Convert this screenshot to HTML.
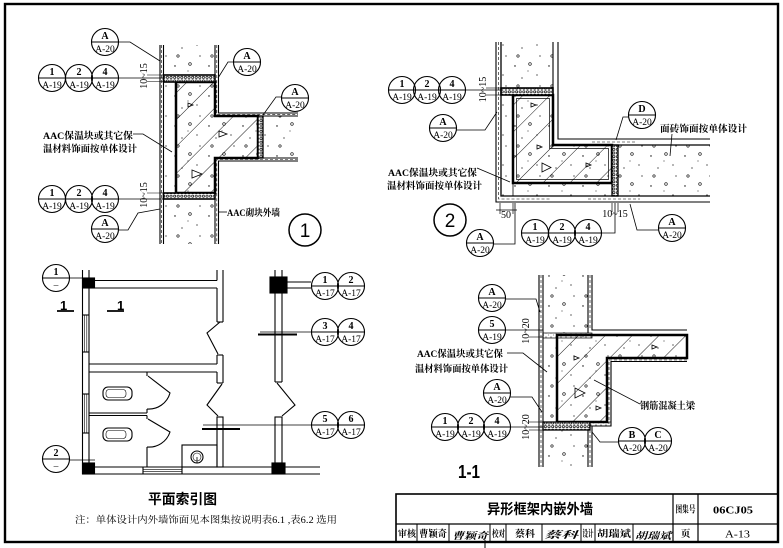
<!DOCTYPE html>
<html><head><meta charset="utf-8">
<style>
html,body{margin:0;padding:0;background:#fff;}
svg{display:block}
.c{fill:none;stroke:#000;stroke-width:1.1}
.d{stroke:#000;stroke-width:.9}
.mt{font-family:"Liberation Serif",serif;font-size:10px;font-weight:bold;text-anchor:middle}
.mb{font-family:"Liberation Serif",serif;font-size:9.5px;text-anchor:middle}
.cn{font-family:"Liberation Serif","Noto Serif CJK SC",serif;font-size:9.6px;font-weight:bold}
.dim{font-family:"Liberation Serif",serif;font-size:10px}
.hs{font-family:"Liberation Sans","Noto Sans CJK SC",sans-serif}
</style></head><body>
<svg width="783" height="548" viewBox="0 0 783 548" xmlns="http://www.w3.org/2000/svg">
<defs>
<pattern id="conc" width="34" height="30" patternUnits="userSpaceOnUse">
 <circle cx="5" cy="6" r="0.7" fill="#000"/>
 <circle cx="20" cy="4" r="1.3" fill="none" stroke="#000" stroke-width="0.6"/>
 <circle cx="27" cy="15" r="0.6" fill="#000"/>
 <circle cx="12" cy="18" r="0.6" fill="#000"/>
 <circle cx="8" cy="26" r="1.2" fill="none" stroke="#000" stroke-width="0.6"/>
 <circle cx="30" cy="26" r="0.6" fill="#000"/>
 <circle cx="18" cy="11" r="0.5" fill="#000"/>
</pattern>
<pattern id="hatch" width="19" height="19" patternUnits="userSpaceOnUse" patternTransform="rotate(45)">
 <line x1="0" y1="0" x2="0" y2="19" stroke="#000" stroke-width="0.9"/>
</pattern>
<pattern id="ins" width="3.6" height="3.6" patternUnits="userSpaceOnUse">
 <rect width="3.6" height="3.6" fill="#fff"/>
 <circle cx="1.8" cy="1.8" r="1.15" fill="none" stroke="#000" stroke-width="0.7"/>
</pattern>
<pattern id="fine" width="5" height="4" patternUnits="userSpaceOnUse">
 <circle cx="1" cy="1" r="0.5" fill="#000"/><circle cx="3.5" cy="3" r="0.4" fill="#000"/>
</pattern>
</defs>

<!-- frame -->
<rect x="5" y="4" width="773" height="538" fill="none" stroke="#000" stroke-width="2.4"/>

<!-- ================= DETAIL 1 ================= -->
<g stroke="#000" fill="none" stroke-width="1.1">
 <rect x="163.5" y="45" width="51.5" height="30" fill="url(#conc)" stroke="none"/>
 <rect x="163.5" y="199" width="51.5" height="45" fill="url(#conc)" stroke="none"/>
 <rect x="262" y="116" width="36" height="42" fill="url(#conc)" stroke="none"/>
 <rect x="163.5" y="82" width="12.5" height="111" fill="url(#conc)" stroke="none"/>
 <path d="M176,82 H215 V116 H258 V158 H215 V193 H176 Z" fill="url(#conc)" stroke="none"/>
 <path d="M176,82 H215 V116 H258 V158 H215 V193 H176 Z" fill="url(#hatch)" stroke-width="2.5"/>
 <path d="M192,170 L202,174 L192,178 Z M188,103 L193,105 L188,107 Z M219,131 L227,134 L219,137 Z" stroke-width=".8"/>
 <rect x="163.5" y="75" width="51.5" height="7" fill="url(#ins)" stroke-width="1.6"/>
 <rect x="163.5" y="193" width="51.5" height="6" fill="url(#ins)" stroke-width="1.6"/>
 <rect x="258" y="116" width="5" height="42" fill="url(#ins)" stroke-width="1.3"/>
 <line x1="160" y1="45" x2="160" y2="244"/>
 <line x1="163.5" y1="45" x2="163.5" y2="244"/>
 <line x1="161.7" y1="45" x2="161.7" y2="244" stroke-width="0.6" stroke-dasharray="3,2"/>
 <line x1="215" y1="45" x2="215" y2="75"/>
 <line x1="215" y1="199" x2="215" y2="244"/>
 <path d="M218.5,45 V113 H298"/>
 <path d="M298,161 H218.5 V244"/>
 <path d="M216.8,45 V114.6 H298" stroke-width=".6" stroke-dasharray="3,2"/>
 <path d="M298,159.5 H216.8 V244" stroke-width=".6" stroke-dasharray="3,2"/>
 <line x1="263" y1="116" x2="298" y2="116"/>
 <line x1="263" y1="158" x2="298" y2="158"/>
 <!-- leaders -->
 <path d="M118.5,42 H130 L160,61" stroke-width=".8"/>
 <line x1="118.5" y1="78" x2="164" y2="78" stroke-width=".8"/>
 <line x1="147" y1="75" x2="164" y2="75" stroke-width=".6"/>
 <line x1="147" y1="81.5" x2="164" y2="81.5" stroke-width=".6"/>
 <line x1="118.5" y1="199" x2="164" y2="199" stroke-width=".8"/>
 <line x1="147" y1="193" x2="164" y2="193" stroke-width=".6"/>
 <path d="M118.5,230 H128 L138,213 L160,209" stroke-width=".8"/>
 <path d="M233.5,62 H228 L218,78" stroke-width=".8"/>
 <path d="M281.5,97 H276 L263,115" stroke-width=".8"/>
 <path d="M133,134 H143 L172,152" stroke-width=".8"/>
 <line x1="218" y1="212" x2="227" y2="212" stroke-width=".8"/>
 <circle cx="305" cy="230" r="16" stroke-width="1.5"/>
</g>
<text class="dim" text-anchor="middle" transform="translate(147 76) rotate(-90)">10~15</text>
<text class="dim" text-anchor="middle" transform="translate(147 195) rotate(-90)">10~15</text>
<text x="43" y="139" class="cn" textLength="90" lengthAdjust="spacingAndGlyphs">AAC保温块或其它保</text>
<text x="43" y="152" class="cn" textLength="94" lengthAdjust="spacingAndGlyphs">温材料饰面按单体设计</text>
<text x="227" y="216" class="cn" textLength="53" lengthAdjust="spacingAndGlyphs">AAC砌块外墙</text>
<text x="305" y="237" class="hs" font-size="19" text-anchor="middle">1</text>

<g transform="translate(105,42)"><circle r="13.5" class="c"/><line x1="-13.5" x2="13.5" class="d"/><text y="-3.2" class="mt">A</text><text y="10" class="mb">A-20</text></g>
<g transform="translate(52,78)"><circle r="13.5" class="c"/><line x1="-13.5" x2="13.5" class="d"/><text y="-3.2" class="mt">1</text><text y="10" class="mb">A-19</text></g>
<g transform="translate(79,78)"><circle r="13.5" class="c"/><line x1="-13.5" x2="13.5" class="d"/><text y="-3.2" class="mt">2</text><text y="10" class="mb">A-19</text></g>
<g transform="translate(105,78)"><circle r="13.5" class="c"/><line x1="-13.5" x2="13.5" class="d"/><text y="-3.2" class="mt">4</text><text y="10" class="mb">A-19</text></g>
<g transform="translate(52,199)"><circle r="13.5" class="c"/><line x1="-13.5" x2="13.5" class="d"/><text y="-3.2" class="mt">1</text><text y="10" class="mb">A-19</text></g>
<g transform="translate(79,199)"><circle r="13.5" class="c"/><line x1="-13.5" x2="13.5" class="d"/><text y="-3.2" class="mt">2</text><text y="10" class="mb">A-19</text></g>
<g transform="translate(105,199)"><circle r="13.5" class="c"/><line x1="-13.5" x2="13.5" class="d"/><text y="-3.2" class="mt">4</text><text y="10" class="mb">A-19</text></g>
<g transform="translate(105,229)"><circle r="13.5" class="c"/><line x1="-13.5" x2="13.5" class="d"/><text y="-3.2" class="mt">A</text><text y="10" class="mb">A-20</text></g>
<g transform="translate(247,62)"><circle r="13.5" class="c"/><line x1="-13.5" x2="13.5" class="d"/><text y="-3.2" class="mt">A</text><text y="10" class="mb">A-20</text></g>
<g transform="translate(295,98)"><circle r="13.5" class="c"/><line x1="-13.5" x2="13.5" class="d"/><text y="-3.2" class="mt">A</text><text y="10" class="mb">A-20</text></g>

<!-- ================= DETAIL 2 ================= -->
<g stroke="#000" fill="none" stroke-width="1.1">
 <rect x="501" y="42" width="52" height="46" fill="url(#conc)" stroke="none"/>
 <rect x="501" y="95" width="12" height="101" fill="url(#conc)" stroke="none"/>
 <rect x="513" y="183" width="99" height="13" fill="url(#conc)" stroke="none"/>
 <rect x="618" y="145" width="92" height="51" fill="url(#conc)" stroke="none"/>
 <path d="M513,95 H553 V145 H612 V183 H513 Z" fill="url(#conc)" stroke="none"/>
 <path d="M513,95 H553 V145 H612 V183 H513 Z" fill="url(#hatch)" stroke-width="2.5"/>
 <path d="M516.5,98.5 H549.5 V148.5 H608.5 V179.5 H516.5 Z" stroke-width=".7"/>
 <path d="M542,163 L551,167.5 L542,172 Z M531,103 L536,105 L531,107 Z M537,145 L542,147 L537,149 Z M586,163 L591,165 L586,167 Z" stroke-width=".8"/>
 <line x1="513" y1="183" x2="513" y2="196" stroke-width=".8"/>
 <rect x="501" y="88" width="52" height="7" fill="url(#ins)" stroke-width="1.6"/>
 <rect x="612" y="145" width="6" height="51" fill="url(#ins)" stroke-width="1.3"/>
 <path d="M496,42 V202 H710"/>
 <path d="M501,42 V196 H710" stroke-width="1.3"/>
 <path d="M498.5,42 V199 H550" stroke-width=".6" stroke-dasharray="3,2"/>
 <line x1="588" y1="199" x2="640" y2="199" stroke-width=".6" stroke-dasharray="3,2"/>
 <line x1="553" y1="42" x2="553" y2="88"/>
 <path d="M558,42 V139 H710"/>
 <line x1="592" y1="142" x2="637" y2="142" stroke-width=".6" stroke-dasharray="3,2"/>
 <line x1="612" y1="145" x2="710" y2="145" stroke-width="1.3"/>
 <!-- leaders -->
 <line x1="465.5" y1="90" x2="501" y2="90" stroke-width=".8"/>
 <line x1="486" y1="88" x2="501" y2="88" stroke-width=".6"/>
 <line x1="486" y1="95" x2="501" y2="95" stroke-width=".6"/>
 <path d="M456.5,130 H485 L497,112" stroke-width=".8"/>
 <path d="M477,168 L510,182" stroke-width=".8"/>
 <circle cx="450" cy="220" r="16" stroke-width="1.5"/>
 <line x1="500" y1="203" x2="500" y2="214" stroke-width=".7"/>
 <line x1="513" y1="203" x2="513" y2="214" stroke-width=".7"/>
 <line x1="496" y1="210" x2="517" y2="210" stroke-width=".7"/>
 <path d="M493.5,244 H515 V203" stroke-width=".8"/>
 <path d="M601.5,233 H615 V203" stroke-width=".8"/>
 <line x1="612" y1="203" x2="612" y2="212" stroke-width=".7"/>
 <line x1="618" y1="203" x2="618" y2="212" stroke-width=".7"/>
 <path d="M628.5,117 H623 L616,140" stroke-width=".8"/>
 <path d="M672,134 L670,156" stroke-width=".8"/>
 <path d="M658.5,230 H637 L630,204" stroke-width=".8"/>
</g>
<text class="dim" text-anchor="middle" transform="translate(486 89.5) rotate(-90)">10~15</text>
<text x="388" y="176" class="cn" textLength="89" lengthAdjust="spacingAndGlyphs">AAC保温块或其它保</text>
<text x="387" y="189" class="cn" textLength="95" lengthAdjust="spacingAndGlyphs">温材料饰面按单体设计</text>
<text x="660" y="132" class="cn" textLength="87" lengthAdjust="spacingAndGlyphs">面砖饰面按单体设计</text>
<text x="506" y="218" class="dim" text-anchor="middle">50</text>
<text x="615" y="217" class="dim" text-anchor="middle">10~15</text>
<text x="450" y="227" class="hs" font-size="19" text-anchor="middle">2</text>
<g transform="translate(402,90)"><circle r="13.5" class="c"/><line x1="-13.5" x2="13.5" class="d"/><text y="-3.2" class="mt">1</text><text y="10" class="mb">A-19</text></g>
<g transform="translate(427,90)"><circle r="13.5" class="c"/><line x1="-13.5" x2="13.5" class="d"/><text y="-3.2" class="mt">2</text><text y="10" class="mb">A-19</text></g>
<g transform="translate(452,90)"><circle r="13.5" class="c"/><line x1="-13.5" x2="13.5" class="d"/><text y="-3.2" class="mt">4</text><text y="10" class="mb">A-19</text></g>
<g transform="translate(443,128)"><circle r="13.5" class="c"/><line x1="-13.5" x2="13.5" class="d"/><text y="-3.2" class="mt">A</text><text y="10" class="mb">A-20</text></g>
<g transform="translate(480,243)"><circle r="13.5" class="c"/><line x1="-13.5" x2="13.5" class="d"/><text y="-3.2" class="mt">A</text><text y="10" class="mb">A-20</text></g>
<g transform="translate(535,233)"><circle r="13.5" class="c"/><line x1="-13.5" x2="13.5" class="d"/><text y="-3.2" class="mt">1</text><text y="10" class="mb">A-19</text></g>
<g transform="translate(562,233)"><circle r="13.5" class="c"/><line x1="-13.5" x2="13.5" class="d"/><text y="-3.2" class="mt">2</text><text y="10" class="mb">A-19</text></g>
<g transform="translate(588,233)"><circle r="13.5" class="c"/><line x1="-13.5" x2="13.5" class="d"/><text y="-3.2" class="mt">4</text><text y="10" class="mb">A-19</text></g>
<g transform="translate(642,115)"><circle r="13.5" class="c"/><line x1="-13.5" x2="13.5" class="d"/><text y="-3.2" class="mt">D</text><text y="10" class="mb">A-20</text></g>
<g transform="translate(672,228)"><circle r="13.5" class="c"/><line x1="-13.5" x2="13.5" class="d"/><text y="-3.2" class="mt">A</text><text y="10" class="mb">A-20</text></g>

<!-- ================= DETAIL 1-1 ================= -->
<g stroke="#000" fill="none" stroke-width="1.1">
 <rect x="543" y="275" width="45" height="58" fill="url(#conc)" stroke="none"/>
 <rect x="543" y="430" width="45" height="37" fill="url(#conc)" stroke="none"/>
 <rect x="543" y="338" width="14" height="84" fill="url(#conc)" stroke="none"/>
 <path d="M557,335 H687 V358 H607 V422 H557 Z" fill="url(#conc)" stroke="none"/>
 <path d="M557,335 H687 V358 H607 V422 H557 Z" fill="url(#hatch)" stroke-width="2.5"/>
 <path d="M575,388 L585,393 L575,398 Z M574,356 L579,358 L574,360 Z M596,406 L601,408 L596,410 Z M652,345 L657,347 L652,349 Z" stroke-width=".8"/>
 <rect x="543" y="333" width="49" height="5" fill="url(#fine)" stroke-width=".7"/>
 <rect x="543" y="422" width="47" height="8" fill="url(#ins)" stroke-width="1.3"/>
 <rect x="590" y="422" width="21" height="4" fill="url(#fine)" stroke-width=".7"/>
 <line x1="539" y1="275" x2="539" y2="467"/>
 <line x1="543" y1="275" x2="543" y2="467"/>
 <line x1="541" y1="275" x2="541" y2="467" stroke-width=".6" stroke-dasharray="3,2"/>
 <line x1="588" y1="275" x2="588" y2="333"/>
 <path d="M592,275 V330 H687"/>
 <line x1="590" y1="275" x2="590" y2="330" stroke-width=".6" stroke-dasharray="3,2"/>
 <path d="M687,361.5 H611 V426 H592 V467"/>
 <path d="M687,360 H609 V424" stroke-width=".6" stroke-dasharray="3,2"/>
 <line x1="588" y1="430" x2="588" y2="467"/>
 <line x1="590" y1="430" x2="590" y2="467" stroke-width=".6" stroke-dasharray="3,2"/>
 <!-- leaders -->
 <path d="M505.5,299 H536 L540,312" stroke-width=".8"/>
 <line x1="505.5" y1="330" x2="543" y2="330" stroke-width=".8"/>
 <line x1="529" y1="337" x2="543" y2="337" stroke-width=".6"/>
 <path d="M507,353 H523 L547,372" stroke-width=".8"/>
 <path d="M510.5,397 H532 L542,412" stroke-width=".8"/>
 <line x1="510.5" y1="427" x2="543" y2="427" stroke-width=".8"/>
 <line x1="529" y1="422" x2="543" y2="422" stroke-width=".6"/>
 <line x1="529" y1="430" x2="543" y2="430" stroke-width=".6"/>
 <path d="M618.5,442 H600 L592,432" stroke-width=".8"/>
 <path d="M640,404 L594,380" stroke-width=".8"/>
</g>
<text class="dim" text-anchor="middle" transform="translate(529 331) rotate(-90)">10~20</text>
<text class="dim" text-anchor="middle" transform="translate(529 427) rotate(-90)">10~20</text>
<text x="417" y="357" class="cn" textLength="86" lengthAdjust="spacingAndGlyphs">AAC保温块或其它保</text>
<text x="415" y="372" class="cn" textLength="93" lengthAdjust="spacingAndGlyphs">温材料饰面按单体设计</text>
<text x="640" y="409" class="cn" textLength="55" lengthAdjust="spacingAndGlyphs">钢筋混凝土梁</text>
<text x="458" y="478" class="hs" font-size="18" font-weight="bold" textLength="22" lengthAdjust="spacingAndGlyphs">1-1</text>
<g transform="translate(492,298)"><circle r="13.5" class="c"/><line x1="-13.5" x2="13.5" class="d"/><text y="-3.2" class="mt">A</text><text y="10" class="mb">A-20</text></g>
<g transform="translate(492,330)"><circle r="13.5" class="c"/><line x1="-13.5" x2="13.5" class="d"/><text y="-3.2" class="mt">5</text><text y="10" class="mb">A-19</text></g>
<g transform="translate(497,393)"><circle r="13.5" class="c"/><line x1="-13.5" x2="13.5" class="d"/><text y="-3.2" class="mt">A</text><text y="10" class="mb">A-20</text></g>
<g transform="translate(445,427)"><circle r="13.5" class="c"/><line x1="-13.5" x2="13.5" class="d"/><text y="-3.2" class="mt">1</text><text y="10" class="mb">A-19</text></g>
<g transform="translate(471,427)"><circle r="13.5" class="c"/><line x1="-13.5" x2="13.5" class="d"/><text y="-3.2" class="mt">2</text><text y="10" class="mb">A-19</text></g>
<g transform="translate(497,427)"><circle r="13.5" class="c"/><line x1="-13.5" x2="13.5" class="d"/><text y="-3.2" class="mt">4</text><text y="10" class="mb">A-19</text></g>
<g transform="translate(632,441)"><circle r="13.5" class="c"/><line x1="-13.5" x2="13.5" class="d"/><text y="-3.2" class="mt">B</text><text y="10" class="mb">A-20</text></g>
<g transform="translate(658,441)"><circle r="13.5" class="c"/><line x1="-13.5" x2="13.5" class="d"/><text y="-3.2" class="mt">C</text><text y="10" class="mb">A-20</text></g>

<!-- ================= PLAN ================= -->
<g stroke="#000" fill="none" stroke-width="1.1">
 <line x1="82.5" y1="270" x2="82.5" y2="474"/>
 <line x1="89" y1="270" x2="89" y2="278"/>
 <line x1="89" y1="288" x2="89" y2="463"/>
 <line x1="82.5" y1="315" x2="89" y2="315"/>
 <line x1="82.5" y1="352" x2="89" y2="352"/>
 <line x1="82.5" y1="394" x2="89" y2="394"/>
 <line x1="82.5" y1="433" x2="89" y2="433"/>
 <line x1="84.7" y1="315" x2="84.7" y2="352" stroke-width=".6"/>
 <line x1="86.8" y1="315" x2="86.8" y2="352" stroke-width=".6"/>
 <line x1="84.7" y1="394" x2="84.7" y2="433" stroke-width=".6"/>
 <line x1="86.8" y1="394" x2="86.8" y2="433" stroke-width=".6"/>
 <rect x="82.5" y="278" width="12" height="10" fill="#000"/>
 <rect x="82.5" y="463" width="12" height="11" fill="#000"/>
 <line x1="94" y1="280.5" x2="217" y2="280.5"/>
 <line x1="94" y1="288" x2="217" y2="288"/>
 <line x1="217" y1="270" x2="217" y2="280.5"/>
 <line x1="217" y1="288" x2="217" y2="322"/>
 <line x1="223" y1="270" x2="223" y2="322"/>
 <line x1="217" y1="322" x2="223" y2="322"/>
 <polyline points="220,322 207,333 218,354"/>
 <line x1="217" y1="355" x2="223" y2="355"/>
 <line x1="217" y1="355" x2="217" y2="364"/>
 <line x1="217" y1="372" x2="217" y2="383"/>
 <line x1="223" y1="355" x2="223" y2="383"/>
 <line x1="217" y1="383" x2="223" y2="383"/>
 <polyline points="222,384 207,405 218,416"/>
 <rect x="217" y="417" width="6" height="50"/>
 <line x1="89" y1="364" x2="217" y2="364"/>
 <line x1="89" y1="372" x2="217" y2="372"/>
 <line x1="275" y1="270" x2="275" y2="382"/>
 <line x1="282" y1="270" x2="282" y2="382"/>
 <line x1="275" y1="382" x2="282" y2="382"/>
 <rect x="270" y="277" width="17" height="16" fill="#000"/>
 <polyline points="277,383 295,405 282,416"/>
 <rect x="275" y="417" width="7" height="46"/>
 <rect x="272" y="463" width="13" height="11" fill="#000"/>
 <line x1="287" y1="282" x2="311" y2="282"/>
 <line x1="287" y1="288" x2="311" y2="288"/>
 <line x1="94" y1="474" x2="320" y2="474"/>
 <line x1="94" y1="467" x2="272" y2="467"/>
 <line x1="285" y1="467" x2="320" y2="467"/>
 <line x1="143" y1="467" x2="143" y2="474"/>
 <line x1="182" y1="467" x2="182" y2="474"/>
 <line x1="143" y1="469.3" x2="182" y2="469.3" stroke-width=".6"/>
 <line x1="143" y1="471.7" x2="182" y2="471.7" stroke-width=".6"/>
 <line x1="147" y1="372" x2="147" y2="376"/>
 <path d="M148,376 L170,393 A22,22 0 0 1 147,409"/>
 <line x1="147" y1="409" x2="147" y2="413"/>
 <line x1="89" y1="413" x2="147" y2="413"/>
 <line x1="89" y1="415.5" x2="147" y2="415.5"/>
 <line x1="147" y1="415.5" x2="147" y2="419"/>
 <path d="M148,419 L170,432 A22,22 0 0 1 147,447"/>
 <line x1="147" y1="447" x2="147" y2="467"/>
 <rect x="103" y="387" width="29" height="13" rx="5"/>
 <rect x="106" y="389.5" width="20" height="8" rx="3" stroke-width=".6"/>
 <rect x="103" y="428" width="29" height="13" rx="5"/>
 <rect x="106" y="430.5" width="20" height="8" rx="3" stroke-width=".6"/>
 <rect x="182" y="445" width="35" height="22"/>
 <circle cx="197" cy="457" r="6"/>
 <circle cx="197" cy="457" r="4" stroke-width=".6"/>
 <line x1="197" y1="457" x2="197" y2="463" stroke-width=".8"/>
 <line x1="57" y1="311" x2="74" y2="311" stroke-width="1.8"/>
 <line x1="107" y1="311" x2="124" y2="311" stroke-width="1.8"/>
 <line x1="69.5" y1="278" x2="83" y2="278" stroke-width=".8"/>
 <line x1="69.5" y1="460" x2="95" y2="460" stroke-width=".8"/>
 <line x1="260" y1="332" x2="311.5" y2="332" stroke-width=".8"/>
 <line x1="258" y1="334.5" x2="297" y2="334.5" stroke-width="2"/>
 <line x1="203" y1="425" x2="311.5" y2="425" stroke-width=".8"/>
 <line x1="202" y1="429" x2="240" y2="429" stroke-width="2"/>
</g>
<text x="60" y="310" class="hs" font-size="13" font-weight="bold">1</text>
<text x="117" y="310" class="hs" font-size="13" font-weight="bold">1</text>
<g transform="translate(56,278)"><circle r="13.5" class="c"/><line x1="-13.5" x2="13.5" class="d"/><text y="-3.2" class="mt">1</text><text y="10" class="mb">–</text></g>
<g transform="translate(56,459)"><circle r="13.5" class="c"/><line x1="-13.5" x2="13.5" class="d"/><text y="-3.2" class="mt">2</text><text y="10" class="mb">–</text></g>
<g transform="translate(325,286)"><circle r="13.5" class="c"/><line x1="-13.5" x2="13.5" class="d"/><text y="-3.2" class="mt">1</text><text y="10" class="mb">A-17</text></g>
<g transform="translate(351,286)"><circle r="13.5" class="c"/><line x1="-13.5" x2="13.5" class="d"/><text y="-3.2" class="mt">2</text><text y="10" class="mb">A-17</text></g>
<g transform="translate(325,332)"><circle r="13.5" class="c"/><line x1="-13.5" x2="13.5" class="d"/><text y="-3.2" class="mt">3</text><text y="10" class="mb">A-17</text></g>
<g transform="translate(351,332)"><circle r="13.5" class="c"/><line x1="-13.5" x2="13.5" class="d"/><text y="-3.2" class="mt">4</text><text y="10" class="mb">A-17</text></g>
<g transform="translate(325,425)"><circle r="13.5" class="c"/><line x1="-13.5" x2="13.5" class="d"/><text y="-3.2" class="mt">5</text><text y="10" class="mb">A-17</text></g>
<g transform="translate(351,425)"><circle r="13.5" class="c"/><line x1="-13.5" x2="13.5" class="d"/><text y="-3.2" class="mt">6</text><text y="10" class="mb">A-17</text></g>

<text x="148" y="504" class="hs" font-size="14" font-weight="bold" textLength="69" lengthAdjust="spacingAndGlyphs">平面索引图</text>
<text x="75" y="523" class="cn" font-size="10" style="font-weight:normal" textLength="262" lengthAdjust="spacingAndGlyphs">注：单体设计内外墙饰面见本图集按说明表6.1 ,表6.2 选用</text>

<!-- ================= TITLE BLOCK ================= -->
<g stroke="#000" fill="none">
 <rect x="396" y="494" width="382" height="48" stroke-width="1.6"/>
 <line x1="396" y1="524" x2="778" y2="524" stroke-width="1.2"/>
 <line x1="673" y1="494" x2="673" y2="542" stroke-width="1.2"/>
 <line x1="698" y1="494" x2="698" y2="542" stroke-width="1.2"/>
 <g stroke-width="1">
  <line x1="417" y1="524" x2="417" y2="542"/>
  <line x1="449" y1="524" x2="449" y2="542"/>
  <line x1="490" y1="524" x2="490" y2="542"/>
  <line x1="506" y1="524" x2="506" y2="542"/>
  <line x1="542" y1="524" x2="542" y2="542"/>
  <line x1="581" y1="524" x2="581" y2="542"/>
  <line x1="595" y1="524" x2="595" y2="542"/>
  <line x1="633" y1="524" x2="633" y2="542"/>
 </g>
 <line x1="485" y1="540" x2="485" y2="548" stroke-width="1"/>
</g>
<text x="487" y="514" class="hs" font-size="14" font-weight="bold" textLength="106" lengthAdjust="spacingAndGlyphs">异形框架内嵌外墙</text>
<text x="685.5" y="512.5" class="cn" font-size="9.5" text-anchor="middle" textLength="20" lengthAdjust="spacingAndGlyphs">图集号</text>
<text x="733" y="513.5" class="dim" font-size="12" font-weight="bold" text-anchor="middle" textLength="40" lengthAdjust="spacingAndGlyphs">06CJ05</text>
<text x="685.5" y="537" class="cn" font-size="9.5" text-anchor="middle">页</text>
<text x="737.5" y="537.5" class="dim" font-size="12" text-anchor="middle" textLength="25" lengthAdjust="spacingAndGlyphs">A-13</text>
<text x="398" y="537" class="cn" font-size="9" textLength="18" lengthAdjust="spacingAndGlyphs">审核</text>
<text x="419" y="537" class="cn" font-size="9" textLength="28" lengthAdjust="spacingAndGlyphs">曹颖奇</text>
<text x="452" y="539" class="cn" font-size="12" font-style="italic" textLength="36" lengthAdjust="spacingAndGlyphs">曹颖奇</text>
<text x="492" y="537" class="cn" font-size="9" textLength="13" lengthAdjust="spacingAndGlyphs">校对</text>
<text x="515" y="537" class="cn" font-size="9" textLength="20" lengthAdjust="spacingAndGlyphs">蔡科</text>
<text x="544" y="538" class="cn" font-size="11" font-style="italic" textLength="34" lengthAdjust="spacingAndGlyphs">蔡科</text>
<text x="582.5" y="537" class="cn" font-size="9" textLength="11" lengthAdjust="spacingAndGlyphs">设计</text>
<text x="597" y="537" class="cn" font-size="9" textLength="34" lengthAdjust="spacingAndGlyphs">胡瑞斌</text>
<text x="635" y="539" class="cn" font-size="12" font-style="italic" textLength="36" lengthAdjust="spacingAndGlyphs">胡瑞斌</text>
</svg>
</body></html>
